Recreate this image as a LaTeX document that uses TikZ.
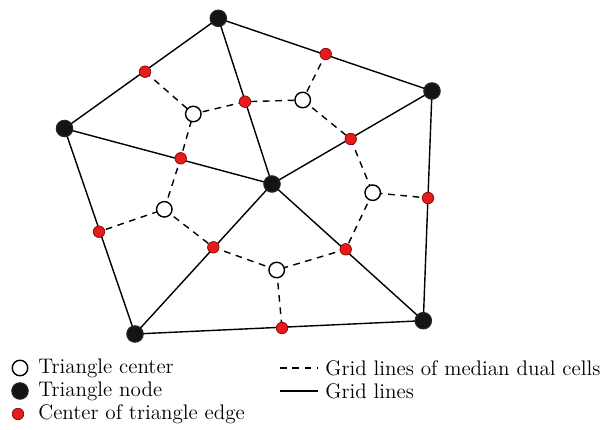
\documentclass[tikz,border=0pt]{standalone}
\usepackage{tikz}

\definecolor{edgered}{RGB}{228,28,28}

\tikzset{
  gridnode/.style={circle,draw=black!85,fill=black!92,line width=0.6pt,minimum size=3.3mm,inner sep=0pt},
  tricenter/.style={circle,draw=black,fill=white,line width=0.8pt,minimum size=3.1mm,inner sep=0pt},
  edgecenter/.style={circle,draw=red!55!black,fill=edgered,line width=0.4pt,minimum size=2.3mm,inner sep=0pt},
  gridline/.style={line width=0.8pt},
  dualline/.style={line width=0.8pt,dash pattern=on 3.8pt off 3.2pt},
  legendtext/.style={anchor=west,inner sep=0pt,font=\large}
}

\begin{document}
\begin{tikzpicture}[x=0.2mm,y=-0.2mm]
  \useasboundingbox (0,0) rectangle (600,429);

  % triangle nodes
  \coordinate (C) at (272,184);
  \coordinate (A) at (218.3,18.3);
  \coordinate (B) at (432,91);
  \coordinate (D) at (423.3,320.7);
  \coordinate (E) at (135,334);
  \coordinate (F) at (64.5,128.5);

  % centers of the edges
  \coordinate (CA) at (245,101.7);
  \coordinate (CB) at (350.7,139);
  \coordinate (CD) at (345.7,249.3);
  \coordinate (CE) at (213.3,247.3);
  \coordinate (CF) at (180.7,158.3);
  \coordinate (AB) at (325.7,54);
  \coordinate (BD) at (428,198);
  \coordinate (DE) at (282,328);
  \coordinate (EF) at (99,231.7);
  \coordinate (FA) at (145,71.7);

  % triangle centers
  \coordinate (Tfa) at (193.3,114);
  \coordinate (Tab) at (302.7,100);
  \coordinate (Tbd) at (372.7,192.7);
  \coordinate (Tde) at (276.7,270);
  \coordinate (Tef) at (164.3,209.3);

  % grid lines
  \draw[gridline] (A) -- (B) -- (D) -- (E) -- (F) -- cycle;
  \foreach \p in {A,B,D,E,F}
    \draw[gridline] (C) -- (\p);

  % median dual cells
  \draw[dualline] (FA) -- (Tfa) -- (CA) -- (Tab) -- (AB);
  \draw[dualline] (Tab) -- (CB) -- (Tbd) -- (BD);
  \draw[dualline] (Tbd) -- (CD) -- (Tde) -- (DE);
  \draw[dualline] (Tde) -- (CE) -- (Tef) -- (EF);
  \draw[dualline] (Tef) -- (CF) -- (Tfa);

  \foreach \p in {A,B,C,D,E,F}
    \node[gridnode] (n\p) at (\p) {};
  \foreach \p in {Tfa,Tab,Tbd,Tde,Tef}
    \node[tricenter] (n\p) at (\p) {};
  \foreach \p in {CA,CB,CD,CE,CF,AB,BD,DE,EF,FA}
    \node[edgecenter] (n\p) at (\p) {};

  % legend
  \node[tricenter] (kc) at (20,368) {};
  \node[gridnode] (kn) at (20,391) {};
  \node[edgecenter] (ke) at (18,414) {};
  \node[legendtext] (tc) at (38,368) {Triangle center};
  \node[legendtext] (tn) at (38,391) {Triangle node};
  \node[legendtext] (te) at (38,414) {Center of triangle edge};
  \coordinate (d1) at (280,368);
  \coordinate (d2) at (318,368);
  \coordinate (g1) at (280,391);
  \coordinate (g2) at (318,391);
  \draw[dualline] (d1) -- (d2);
  \draw[gridline] (g1) -- (g2);
  \node[legendtext] (td) at (325,368) {Grid lines of median dual cells};
  \node[legendtext] (tg) at (325,391) {Grid lines};
\end{tikzpicture}
\end{document}
